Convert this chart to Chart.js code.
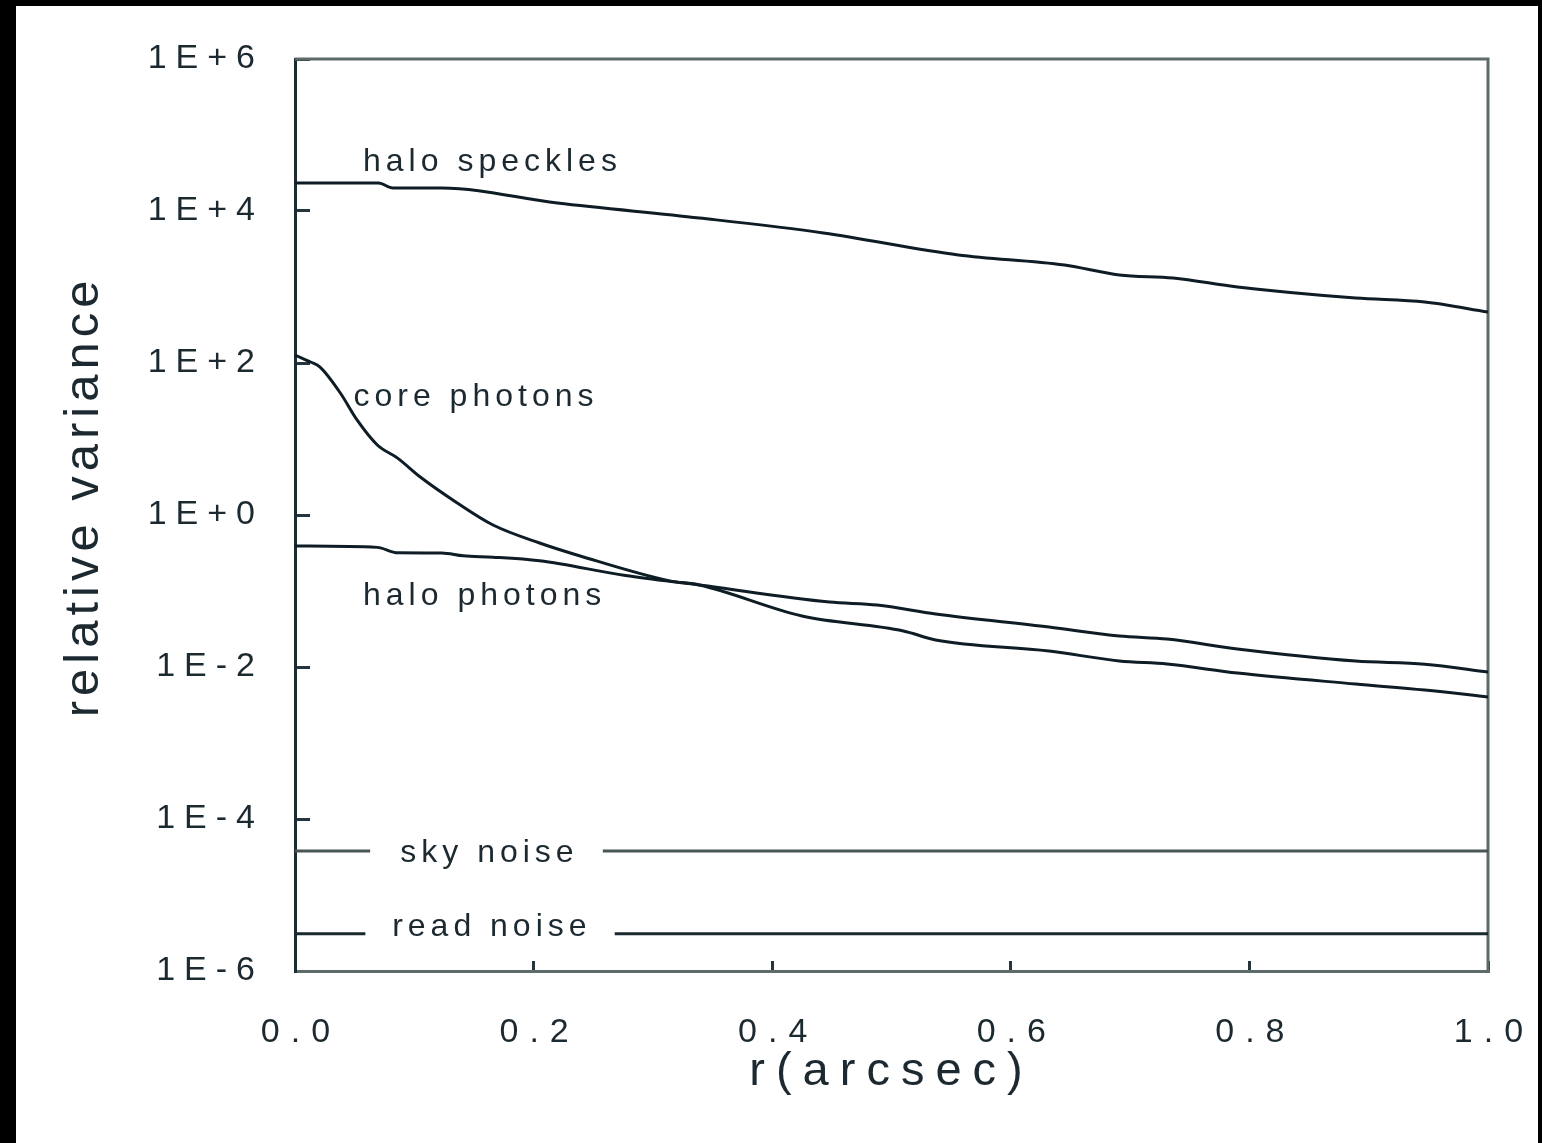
<!DOCTYPE html>
<html>
<head>
<meta charset="utf-8">
<script src="https://cdn.jsdelivr.net/npm/chart.js@4"></script>
<style>
    html, body { margin: 0; padding: 0; background: #000; }
    body { width: 1542px; height: 1143px; position: relative; overflow: hidden; }
    #sheet { position: absolute; left: 16px; top: 6px; width: 1522px; height: 1137px; background: #fff; }
    canvas { display: block; }
</style>
</head>
<body>
<div id="sheet"><canvas id="varianceChart" width="1522" height="1137"></canvas></div>
<script>
// r in arcsec, values are relative variance
const speckleR = [0, 0.070, 0.082, 0.123, 0.220, 0.339, 0.443, 0.556, 0.645, 0.691, 0.736, 0.790, 0.889, 0.947, 1.0];
const speckleVar = [23300, 23300, 20100, 20100, 12700, 8090, 5140, 2640, 1945, 1440, 1313, 1000, 716, 635, 469];

const coreR = [0, 0.013, 0.021, 0.038, 0.052, 0.069, 0.086, 0.105, 0.136, 0.166, 0.205, 0.239, 0.314, 0.339, 0.425, 0.510, 0.537, 0.632, 0.691, 0.731, 0.790, 0.889, 0.947, 1.0];
const coreVar = [127, 103, 88.5, 40.3, 17.8, 8.34, 5.6, 3.16, 1.44, 0.738, 0.428, 0.289, 0.136, 0.12, 0.0469, 0.0298, 0.0227, 0.01625, 0.012, 0.01094, 0.00833, 0.00597, 0.00498, 0.00403];

const haloR = [0, 0.069, 0.086, 0.123, 0.141, 0.166, 0.205, 0.277, 0.339, 0.448, 0.488, 0.537, 0.632, 0.691, 0.731, 0.790, 0.889, 0.947, 1.0];
const haloVar = [0.391, 0.375, 0.318, 0.316, 0.29, 0.279, 0.25, 0.16, 0.12, 0.0716, 0.0654, 0.0498, 0.0336, 0.0256, 0.0233, 0.0173, 0.012, 0.0109, 0.0086];

// flat noise floors, null leaves room for the label
const skyR = [0, 0.063, 0.16, 0.258, 1.0];
const skyVar = [3.8e-5, 3.8e-5, null, 3.8e-5, 3.8e-5];
const readR = [0, 0.059, 0.16, 0.268, 1.0];
const readVar = [3.1e-6, 3.1e-6, null, 3.1e-6, 3.1e-6];

const xTicks = [0, 0.2, 0.4, 0.6, 0.8, 1.0];
const xTickLabels = ['0.0', '0.2', '0.4', '0.6', '0.8', '1.0'];
const yTicks = [1e-6, 1e-4, 1e-2, 1, 1e2, 1e4, 1e6];
const yTickLabels = ['1E-6', '1E-4', '1E-2', '1E+0', '1E+2', '1E+4', '1E+6'];

const noteTexts = ['halo speckles', 'core photons', 'halo photons', 'sky noise', 'read noise'];
const noteR = [0.057, 0.049, 0.057, 0.163, 0.165];
const noteVar = [44000, 35.7, 0.086, 3.57e-5, 3.8e-6];
const noteAlign = ['left', 'left', 'left', 'center', 'center'];

const fontFamily = "'Liberation Sans', Arial, Helvetica, sans-serif";
const textColor = '#1c2930';
const lineColor = '#0e1c25';
const frameGrey = '#5d6a6a';

const spacing = {
    x: { ticks: '11px', title: '11px' },
    y: { ticks: '9px', title: '5px' }
};

function toPoints(xs, ys) {
    return xs.map((x, i) => ({ x: x, y: ys[i] }));
}

// canvas letter spacing per axis, chart.js has no option for it
const spacingPlugin = {
    id: 'spacing',
    afterLayout(chart) {
        Object.values(chart.scales).forEach(scale => {
            if (scale._spaced || !spacing[scale.id]) return;
            scale._spaced = true;
            const sp = spacing[scale.id];
            const drawLabels = scale.drawLabels.bind(scale);
            const drawTitle = scale.drawTitle.bind(scale);
            scale.drawLabels = (area) => {
                chart.ctx.save();
                chart.ctx.letterSpacing = sp.ticks;
                drawLabels(area);
                chart.ctx.restore();
            };
            scale.drawTitle = () => {
                chart.ctx.save();
                chart.ctx.letterSpacing = sp.title;
                drawTitle();
                chart.ctx.restore();
            };
        });
    }
};

// top and right edges of the box
const framePlugin = {
    id: 'frame',
    beforeDatasetsDraw(chart) {
        const { ctx, chartArea } = chart;
        ctx.save();
        ctx.strokeStyle = frameGrey;
        ctx.lineWidth = 3;
        ctx.beginPath();
        ctx.moveTo(chartArea.left, chartArea.top);
        ctx.lineTo(chartArea.right, chartArea.top);
        ctx.lineTo(chartArea.right, chartArea.bottom);
        ctx.stroke();
        ctx.restore();
    }
};

// curve names written inside the plot
const notesPlugin = {
    id: 'notes',
    afterDatasetsDraw(chart) {
        const { ctx, scales } = chart;
        ctx.save();
        ctx.font = '32px ' + fontFamily;
        ctx.fillStyle = textColor;
        ctx.textBaseline = 'middle';
        ctx.letterSpacing = '5px';
        noteTexts.forEach((text, i) => {
            ctx.textAlign = noteAlign[i];
            ctx.fillText(text, scales.x.getPixelForValue(noteR[i]), scales.y.getPixelForValue(noteVar[i]));
        });
        ctx.restore();
    }
};

const lineDefaults = {
    borderColor: lineColor,
    borderWidth: 3,
    pointRadius: 0,
    fill: false,
    cubicInterpolationMode: 'monotone'
};

const ctx = document.getElementById('varianceChart').getContext('2d');
const varianceChart = new Chart(ctx, {
    type: 'line',
    data: {
        datasets: [
            { label: 'halo speckles', data: toPoints(speckleR, speckleVar), ...lineDefaults },
            { label: 'core photons', data: toPoints(coreR, coreVar), ...lineDefaults },
            { label: 'halo photons', data: toPoints(haloR, haloVar), ...lineDefaults },
            { label: 'sky noise', data: toPoints(skyR, skyVar), ...lineDefaults, borderColor: '#485656', cubicInterpolationMode: 'default', tension: 0 },
            { label: 'read noise', data: toPoints(readR, readVar), ...lineDefaults, borderColor: '#1a282f', cubicInterpolationMode: 'default', tension: 0 }
        ]
    },
    options: {
        responsive: false,
        animation: false,
        events: [],
        layout: { padding: { top: 53, right: 50, left: 0, bottom: 0 } },
        plugins: {
            legend: { display: false },
            tooltip: { enabled: false }
        },
        scales: {
            x: {
                type: 'linear',
                position: 'bottom',
                min: 0,
                max: 1,
                afterFit: (scale) => {
                    scale.height = 172;
                    scale.paddingLeft = 0;
                    scale.paddingRight = 0;
                },
                afterBuildTicks: (scale) => { scale.ticks = xTicks.map(v => ({ value: v })); },
                grid: { drawOnChartArea: false, drawTicks: true, tickLength: -10, color: '#26343b', lineWidth: 3 },
                border: { display: true, color: frameGrey, width: 3 },
                ticks: {
                    autoSkip: false,
                    maxRotation: 0,
                    padding: 51,
                    labelOffset: 6,
                    color: textColor,
                    font: { family: fontFamily, size: 34 },
                    callback: (value) => xTickLabels[xTicks.indexOf(value)]
                },
                title: {
                    display: true,
                    text: 'r(arcsec)',
                    color: textColor,
                    font: { family: fontFamily, size: 47 },
                    padding: { top: 0, bottom: 43 }
                }
            },
            y: {
                type: 'logarithmic',
                position: 'left',
                min: 1e-6,
                max: 1e6,
                afterFit: (scale) => {
                    scale.width = 279;
                    scale.paddingTop = 0;
                    scale.paddingBottom = 0;
                },
                afterBuildTicks: (scale) => { scale.ticks = yTicks.map(v => ({ value: v })); },
                grid: { drawOnChartArea: false, drawTicks: true, tickLength: -15, color: '#26343b', lineWidth: 3 },
                border: { display: true, color: '#1d2b33', width: 3 },
                ticks: {
                    autoSkip: false,
                    padding: 46,
                    color: textColor,
                    font: { family: fontFamily, size: 34 },
                    callback: (value) => yTickLabels[yTicks.indexOf(value)]
                },
                title: {
                    display: true,
                    // leading blanks lift the rotated title a little, as in the original
                    text: '  relative variance',
                    color: textColor,
                    font: { family: fontFamily, size: 49 },
                    padding: { top: 39, bottom: 0 }
                }
            }
        }
    },
    plugins: [spacingPlugin, framePlugin, notesPlugin]
});
</script>
</body>
</html>
